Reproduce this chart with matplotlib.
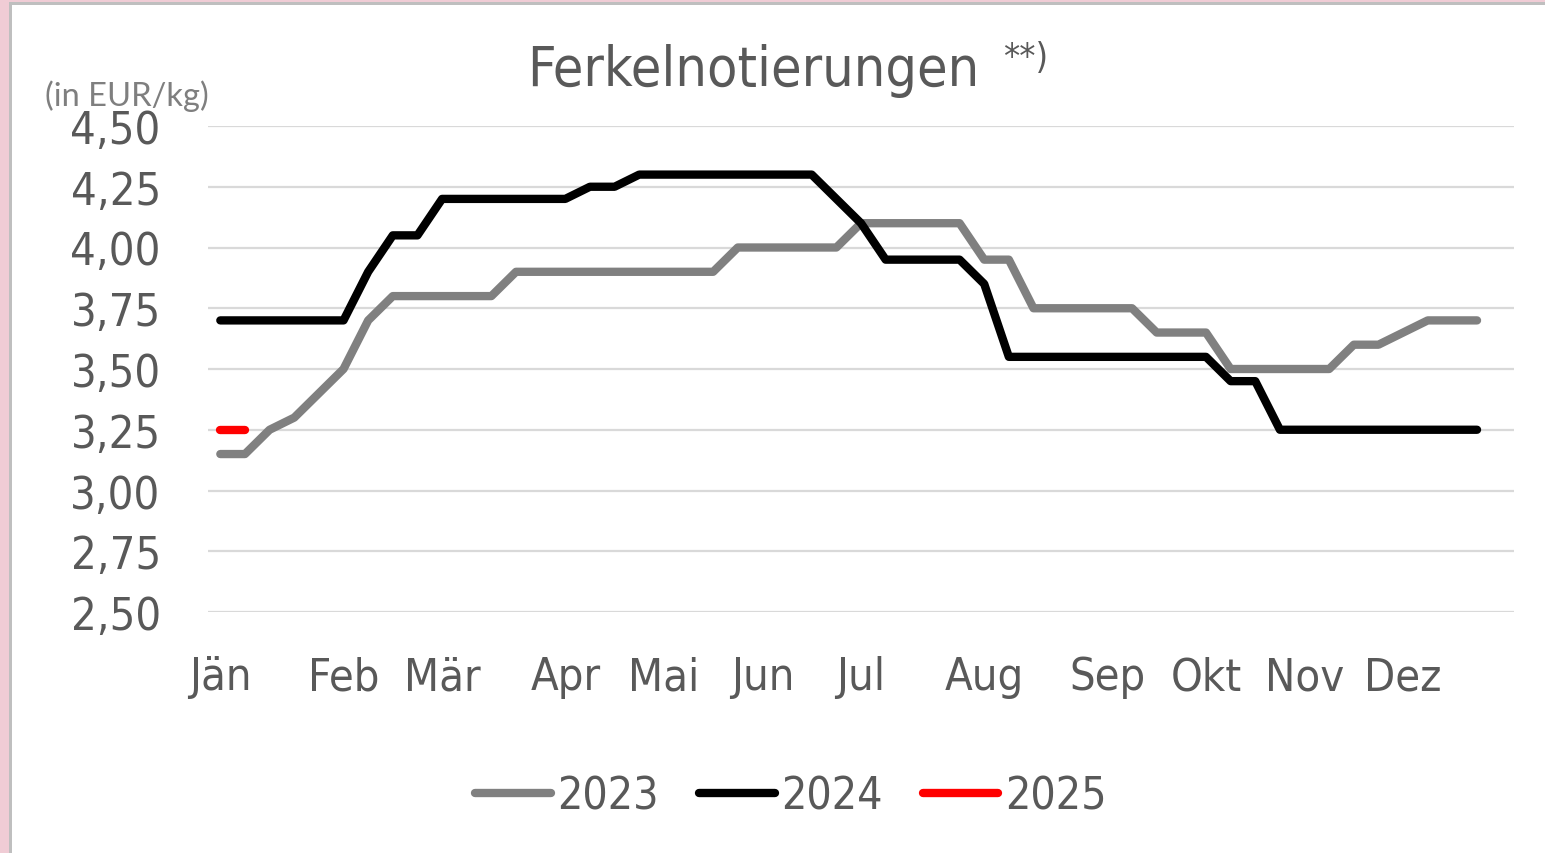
import matplotlib
matplotlib.use("Agg")
import matplotlib.pyplot as plt
from matplotlib.patches import Rectangle
from matplotlib.lines import Line2D
from matplotlib.font_manager import FontProperties

weeks = list(range(1, 53))
vals_2023 = [3.15, 3.15, 3.25, 3.30, 3.40, 3.50, 3.70, 3.80, 3.80, 3.80,
             3.80, 3.80, 3.90, 3.90, 3.90, 3.90, 3.90, 3.90, 3.90, 3.90,
             3.90, 4.00, 4.00, 4.00, 4.00, 4.00, 4.10, 4.10, 4.10, 4.10,
             4.10, 3.95, 3.95, 3.75, 3.75, 3.75, 3.75, 3.75, 3.65, 3.65,
             3.65, 3.50, 3.50, 3.50, 3.50, 3.50, 3.60, 3.60, 3.65, 3.70,
             3.70, 3.70]
vals_2024 = [3.70, 3.70, 3.70, 3.70, 3.70, 3.70, 3.90, 4.05, 4.05, 4.20,
             4.20, 4.20, 4.20, 4.20, 4.20, 4.25, 4.25, 4.30, 4.30, 4.30,
             4.30, 4.30, 4.30, 4.30, 4.30, 4.20, 4.10, 3.95, 3.95, 3.95,
             3.95, 3.85, 3.55, 3.55, 3.55, 3.55, 3.55, 3.55, 3.55, 3.55,
             3.55, 3.45, 3.45, 3.25, 3.25, 3.25, 3.25, 3.25, 3.25, 3.25,
             3.25, 3.25]
vals_2025 = [3.25, 3.25]

month_labels = ["Jän", "Feb", "Mär", "Apr", "Mai", "Jun", "Jul", "Aug",
                "Sep", "Okt", "Nov", "Dez"]
month_weeks = [1, 6, 10, 15, 19, 23, 27, 32, 37, 41, 45, 49]
yticks = [2.50, 2.75, 3.00, 3.25, 3.50, 3.75, 4.00, 4.25, 4.50]

TXT = "#595959"


def fp(size):
    return FontProperties(family="DejaVu Sans", stretch="condensed", size=size)


W, H = 1545, 854
fig = plt.figure(figsize=(W / 100, H / 100), dpi=100)
fig.patch.set_facecolor("white")

# border decoration
fig.add_artist(Rectangle((0, 0), 9 / W, 1, transform=fig.transFigure,
                         facecolor="#f0ccd5", edgecolor="none", zorder=0))
fig.add_artist(Rectangle((0, 1 - 3 / H), 1, 3 / H, transform=fig.transFigure,
                         facecolor="#f0ccd5", edgecolor="none", zorder=0))
fig.add_artist(Rectangle((9 / W, 0), 3 / W, 1 - 3 / H, transform=fig.transFigure,
                         facecolor="#bfbfbf", edgecolor="none", zorder=0))
fig.add_artist(Rectangle((9 / W, 1 - 6 / H), 1 - 9 / W, 3 / H, transform=fig.transFigure,
                         facecolor="#bfbfbf", edgecolor="none", zorder=0))

left, right = 208 / W, 1514 / W
bottom, top = 1 - 613 / H, 1 - 127 / H
ax = fig.add_axes([left, bottom, right - left, top - bottom])
ax.set_facecolor("none")

idx = lambda w: [x - 1 for x in w]
lw = 6.0
ax.plot(idx(weeks), vals_2023, color="#808080", lw=lw, solid_capstyle="round",
        solid_joinstyle="round", zorder=3, label="2023")
ax.plot(idx(weeks), vals_2024, color="#000000", lw=lw, solid_capstyle="round",
        solid_joinstyle="round", zorder=4, label="2024")
ax.plot(idx(weeks[:len(vals_2025)]), vals_2025, color="#ff0000", lw=lw,
        solid_capstyle="round", solid_joinstyle="round", zorder=5, label="2025")

ax.set_xlim(-0.5, 52.5)
ax.set_ylim(2.5, 4.5)
ax.set_yticks(yticks)
ax.set_yticklabels([f"{v:.2f}".replace(".", ",") for v in yticks],
                   fontproperties=fp(32.5), color=TXT)
ax.set_xticks(idx(month_weeks))
ax.set_xticklabels(month_labels, fontproperties=fp(32.5), color=TXT)
ax.tick_params(axis="y", length=0, pad=34)
ax.tick_params(axis="x", length=0, pad=31)
ax.grid(axis="y", color="#d9d9d9", lw=1.6, zorder=1)
ax.set_axisbelow(True)
for s in ax.spines.values():
    s.set_visible(False)

fig.text(753 / W, 1 - 71 / H, "Ferkelnotierungen", ha="center", va="center",
         fontproperties=fp(40), color=TXT)
fig.text(1003 / W, 1 - 58 / H, "**)", ha="left", va="center",
         fontproperties=fp(26), color=TXT)
fig.text(45 / W, 1 - 96 / H, "(in EUR/kg)", ha="left", va="center",
         fontproperties=FontProperties(family=["Lato", "DejaVu Sans"], size=23.5),
         color="#7f7f7f")

handles = [Line2D([], [], color=c, lw=lw, solid_capstyle="round")
           for c in ["#808080", "#000000", "#ff0000"]]
leg = fig.legend(handles, ["2023", "2024", "2025"], loc="center",
                 bbox_to_anchor=(791 / W, 1 - 797 / H), ncol=3, frameon=False,
                 handlelength=1.7, handletextpad=0.15, columnspacing=0.9,
                 prop=fp(32))
for t in leg.get_texts():
    t.set_color(TXT)

fig.savefig("out.png", dpi=100, facecolor="white")
